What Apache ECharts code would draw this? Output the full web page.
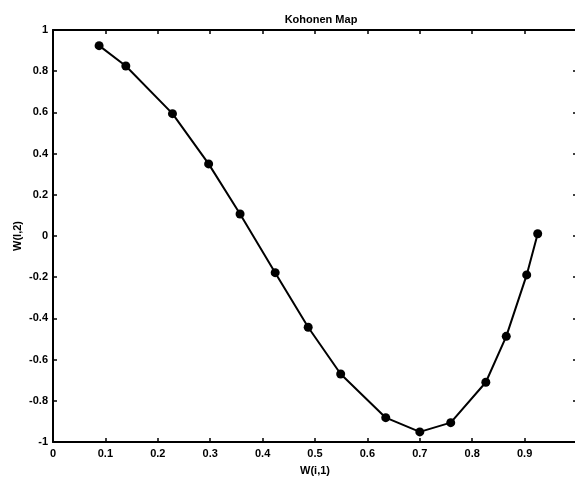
<!DOCTYPE html>
<html>
<head>
<meta charset="utf-8">
<script src="https://cdn.jsdelivr.net/npm/echarts@6/dist/echarts.min.js"></script>
<style>
html,body{margin:0;padding:0;background:#fff;}
#chart{width:575px;height:479px;}
</style>
</head>
<body>
<div id="chart"></div>
<script>
var titleText = 'Kohonen Map';
var xName = 'W(i,1)';
var yName = 'W(l,2)';
var wX = [0.088, 0.139, 0.228, 0.297, 0.357, 0.424, 0.487, 0.549, 0.635, 0.700, 0.759, 0.826, 0.865, 0.904, 0.925];
var wY = [0.924, 0.825, 0.594, 0.350, 0.107, -0.178, -0.443, -0.670, -0.882, -0.951, -0.906, -0.710, -0.487, -0.189, 0.011];
var xTickLabels = ['0', '0.1', '0.2', '0.3', '0.4', '0.5', '0.6', '0.7', '0.8', '0.9', ''];
var yTickLabels = ['-1', '-0.8', '-0.6', '-0.4', '-0.2', '0', '0.2', '0.4', '0.6', '0.8', '1'];

var pts = wX.map(function (x, i) { return [x, wY[i]]; });
var font = 'Liberation Sans, Arial, sans-serif';
var lblStyle = { color: '#000', fontFamily: font, fontWeight: 'bold', fontSize: 11 };
var axLine = { show: true, onZero: false, lineStyle: { color: '#000', width: 2 } };
var tick = { show: true, inside: true, length: 4, lineStyle: { color: '#000', width: 1.5 } };

var chart = echarts.init(document.getElementById('chart'), null, { renderer: 'canvas' });
chart.setOption({
  animation: false,
  backgroundColor: '#fff',
  title: {
    text: titleText, left: 316, top: 9, textAlign: 'center',
    textStyle: { color: '#000', fontFamily: font, fontWeight: 'bold', fontSize: 11 }
  },
  grid: { left: 53, width: 524, top: 30, height: 412, containLabel: false, outerBoundsMode: 'none' },
  xAxis: [{
    type: 'value', min: 0, max: 1, interval: 0.1, position: 'bottom',
    name: xName, nameLocation: 'middle', nameGap: 23,
    nameTextStyle: lblStyle,
    axisLine: axLine, axisTick: tick, splitLine: { show: false },
    axisLabel: Object.assign({ margin: 6, formatter: function (v) { return xTickLabels[Math.round(v * 10)]; } }, lblStyle)
  }, {
    type: 'value', min: 0, max: 1, interval: 0.1, position: 'top',
    axisLine: axLine, axisTick: tick, splitLine: { show: false }, axisLabel: { show: false }
  }],
  yAxis: [{
    type: 'value', min: -1, max: 1, interval: 0.2, position: 'left',
    name: yName, nameLocation: 'middle', nameGap: 30, nameMoveOverlap: false,
    nameTextStyle: lblStyle,
    axisLine: axLine, axisTick: tick, splitLine: { show: false },
    axisLabel: Object.assign({ margin: 5, formatter: function (v) { return yTickLabels[Math.round((v + 1) * 5)]; } }, lblStyle)
  }, {
    type: 'value', min: -1, max: 1, interval: 0.2, position: 'right',
    axisLine: axLine, axisTick: tick, splitLine: { show: false }, axisLabel: { show: false }
  }],
  series: [{
    type: 'line', data: pts, xAxisIndex: 0, yAxisIndex: 0,
    symbol: 'circle', symbolSize: 9,
    lineStyle: { color: '#000', width: 2 },
    itemStyle: { color: '#000' }
  }]
});
</script>
</body>
</html>
